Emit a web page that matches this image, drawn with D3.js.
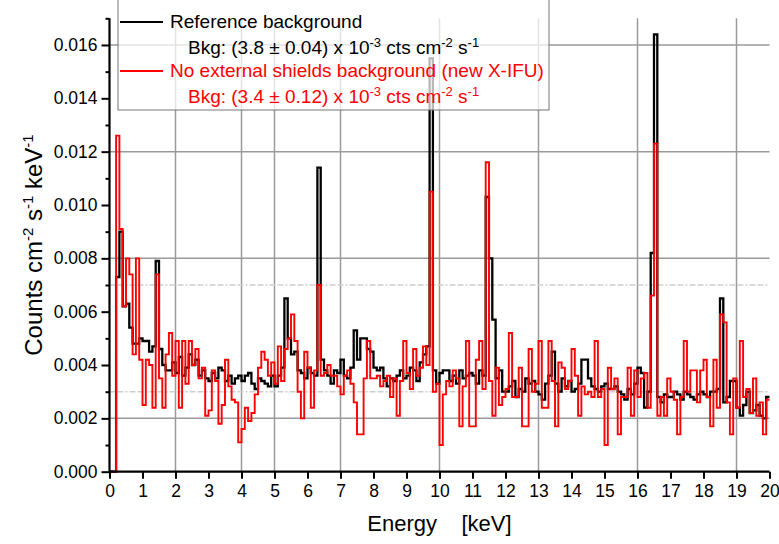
<!DOCTYPE html>
<html>
<head>
<meta charset="utf-8">
<script src="https://cdn.jsdelivr.net/npm/d3@7/dist/d3.min.js"></script>
<style>
  body { margin: 0; background: #fff; }
  text { font-family: "Liberation Sans", Arial, sans-serif; }
</style>
</head>
<body>
<div id="chart"></div>
<script>
// spectra, 0.1 keV bins from 0 to 20 keV, values in 1e-3 counts cm-2 s-1 keV-1
const binWidth = 0.1;

const refBkg = [
  0, 0, 7.3, 9.0, 6.2, 6.3, 5.4, 4.8, 4.8, 5.0,
  4.9, 4.9, 4.5, 4.7, 7.9, 4.6, 4.0, 3.8, 3.8, 4.1,
  3.7, 4.3, 3.6, 3.9, 4.4, 4.0, 4.2, 3.6, 3.8, 3.5,
  3.4, 3.7, 3.5, 3.9, 3.8, 3.4, 3.6, 3.3, 3.5, 3.6,
  3.4, 3.6, 3.7, 3.3, 3.1, 3.5, 3.4, 3.3, 3.2, 3.6,
  3.2, 3.6, 3.9, 6.5, 5.0, 4.4, 4.5, 3.8, 3.7, 3.5,
  3.9, 3.7, 3.6, 11.4, 4.2, 3.8, 3.6, 3.3, 3.8, 3.7,
  4.2, 3.6, 3.5, 3.9, 5.3, 4.2, 5.0, 5.0, 4.6, 4.5,
  3.9, 3.8, 3.9, 3.5, 3.2, 3.5, 3.4, 3.6, 3.8, 3.5,
  3.6, 3.9, 3.8, 3.4, 4.1, 4.4, 4.7, 15.5, 3.8, 3.3,
  3.7, 3.8, 3.8, 3.4, 3.6, 3.3, 3.8, 3.5, 3.6, 3.7,
  3.6, 3.3, 3.8, 3.6, 10.3, 8.0, 5.7, 3.5, 3.8, 3.0,
  3.0, 3.2, 3.4, 2.8, 3.1, 3.0, 3.5, 3.3, 3.4, 3.0,
  2.9, 2.7, 3.3, 3.6, 4.5, 3.3, 3.0, 3.5, 3.2, 3.4,
  3.0, 3.1, 3.3, 4.2, 4.2, 3.5, 3.2, 3.1, 3.0, 3.2,
  3.3, 3.1, 3.1, 3.2, 3.0, 2.9, 2.7, 3.1, 2.9, 3.3,
  3.9, 3.7, 2.4, 3.0, 8.2, 16.4, 2.8, 2.6, 2.9, 2.8,
  2.8, 3.0, 2.9, 2.7, 3.0, 2.9, 2.8, 2.7, 2.9, 3.0,
  2.9, 2.8, 3.0, 3.0, 3.1, 6.5, 2.6, 2.8, 3.4, 3.4,
  2.4, 2.1, 2.5, 3.0, 2.2, 2.3, 2.5, 2.1, 2.0, 2.8
];

const noShieldBkg = [
  0, 0, 12.6, 9.1, 6.2, 8.0, 7.4, 4.4, 8.0, 4.2,
  2.5, 4.2, 4.0, 2.4, 7.4, 3.5, 2.4, 4.4, 5.2, 3.6,
  4.9, 2.4, 4.9, 3.3, 4.9, 4.0, 4.6, 3.5, 3.9, 2.1,
  2.3, 3.8, 3.4, 1.8, 2.5, 4.2, 3.2, 2.7, 2.6, 1.1,
  1.6, 2.4, 1.9, 2.2, 2.9, 3.9, 4.5, 4.2, 3.6, 4.1,
  3.3, 4.7, 3.4, 4.6, 5.0, 5.9, 4.9, 3.0, 2.0, 4.5,
  3.9, 2.4, 3.8, 7.0, 3.6, 3.7, 4.0, 3.6, 3.6, 3.2,
  2.9, 3.6, 3.8, 3.3, 2.6, 1.4, 1.4, 3.5, 4.9, 3.5,
  3.5, 3.6, 3.2, 3.4, 3.6, 2.8, 3.5, 2.1, 3.4, 4.9,
  3.7, 3.1, 4.6, 3.6, 3.9, 4.7, 4.0, 10.5, 3.0, 3.3,
  1.0, 2.9, 3.4, 3.2, 3.8, 3.5, 1.7, 3.2, 4.9, 1.7,
  1.7, 4.2, 4.9, 3.1, 11.6, 3.4, 2.1, 3.9, 2.5, 2.8,
  3.1, 5.2, 2.8, 2.8, 3.9, 1.7, 1.7, 4.6, 3.0, 3.3,
  4.9, 2.4, 2.4, 4.9, 3.4, 1.7, 4.1, 3.9, 3.1, 3.4,
  4.6, 3.6, 2.1, 3.2, 2.9, 3.0, 2.8, 4.9, 2.8, 3.1,
  1.0, 3.9, 3.1, 3.5, 1.4, 2.8, 2.8, 3.9, 2.1, 3.8,
  2.8, 3.5, 3.7, 2.4, 6.6, 12.3, 2.1, 2.8, 2.1, 3.5,
  3.0, 2.7, 1.4, 2.8, 4.9, 3.0, 3.8, 3.8, 2.6, 3.8,
  4.2, 2.8, 1.7, 4.2, 2.4, 5.9, 5.6, 2.6, 1.4, 3.5,
  2.4, 4.9, 2.8, 3.1, 2.2, 3.5, 2.1, 2.6, 1.4, 2.7
];

const xTicks = d3.range(0, 21, 1);
const yTicks = [0, 0.002, 0.004, 0.006, 0.008, 0.010, 0.012, 0.014, 0.016];
const yMinorTicks = [0.001, 0.003, 0.005, 0.007, 0.009, 0.011, 0.013, 0.015, 0.017];
const xGrid = [2, 4, 5, 7, 10, 13, 16, 19];
const yGrid = [0.002, 0.008, 0.012, 0.016];
const yDashGrid = [0.003, 0.007];

const seriesNames = ["Reference background", "No external shields background (new X-IFU)"];
const seriesBkg = [["3.8", "0.04"], ["3.4", "0.12"]];
const seriesColors = ["#000000", "#ff0000"];

const W = 779, H = 544;
let margin = { top: 18.3, right: 9.5, bottom: 72.3, left: 109.5 },
  width = W - margin.left - margin.right,
  height = H - margin.top - margin.bottom;

let svg = d3.select("#chart").append("svg")
  .attr("width", W)
  .attr("height", H);

let g = svg.append("g")
  .attr("transform", "translate(" + margin.left + "," + margin.top + ")");

let x = d3.scaleLinear().domain([0, 20]).range([0, width]);
let y = d3.scaleLinear().domain([0, 0.017]).range([height, 0]);

// grid
g.selectAll(".vgrid").data(xGrid).enter().append("line")
  .attr("x1", d => x(d)).attr("x2", d => x(d))
  .attr("y1", 0).attr("y2", height)
  .attr("stroke", "#9a9a9a").attr("stroke-width", 1.5);

g.selectAll(".hgrid").data(yGrid).enter().append("line")
  .attr("x1", 0).attr("x2", width)
  .attr("y1", d => y(d)).attr("y2", d => y(d))
  .attr("stroke", "#9a9a9a").attr("stroke-width", 1.5);

g.selectAll(".hdash").data(yDashGrid).enter().append("line")
  .attr("x1", 0).attr("x2", width)
  .attr("y1", d => y(d)).attr("y2", d => y(d))
  .attr("stroke", "#cfcfcf").attr("stroke-width", 1.5)
  .attr("stroke-dasharray", "6,2,6,2,2,2");

// step histograms
function toSteps(values) {
  let pts = values.map((v, i) => [i * binWidth, v * 1e-3]);
  pts.push([values.length * binWidth, values[values.length - 1] * 1e-3]);
  return pts;
}

let stepLine = d3.line()
  .x(d => x(d[0]))
  .y(d => y(d[1]))
  .curve(d3.curveStepAfter);

g.append("path")
  .datum(toSteps(refBkg))
  .attr("fill", "none")
  .attr("stroke", seriesColors[0])
  .attr("stroke-width", 2.3)
  .attr("d", stepLine);

g.append("path")
  .datum(toSteps(noShieldBkg))
  .attr("fill", "none")
  .attr("stroke", seriesColors[1])
  .attr("stroke-width", 1.9)
  .attr("d", stepLine);

// axes
let xAxis = g.append("g")
  .attr("transform", "translate(0," + height + ")")
  .call(d3.axisBottom(x).tickValues(xTicks).tickFormat(d3.format("d")).tickSize(7).tickPadding(6));

let yAxis = g.append("g")
  .call(d3.axisLeft(y).tickValues(yTicks).tickFormat(d3.format(".3f")).tickSize(8).tickPadding(4));

g.append("g")
  .call(d3.axisLeft(y).tickValues(yMinorTicks).tickFormat("").tickSize(4))
  .select(".domain").remove();

[xAxis, yAxis].forEach(a => {
  a.select(".domain").attr("stroke-width", 2.2).attr("d",
    a === xAxis ? "M0,0H" + width : "M0,0V" + height);
  a.selectAll(".tick text")
    .style("font-size", "17.5px")
    .attr("fill", "#000");
});
g.selectAll(".tick line").attr("stroke-width", 2);

// axis titles
svg.append("text")
  .attr("x", margin.left + x(10))
  .attr("y", 531)
  .attr("text-anchor", "middle")
  .style("font-size", "22px")
  .style("white-space", "pre")
  .text("Energy    [keV]");

let yTitle = svg.append("text")
  .attr("transform", "translate(42,245) rotate(-90)")
  .attr("text-anchor", "middle")
  .style("font-size", "24px");
yTitle.append("tspan").text("Counts cm");
yTitle.append("tspan").attr("dy", -9).style("font-size", "15px").text("-2");
yTitle.append("tspan").attr("dy", 9).text(" s");
yTitle.append("tspan").attr("dy", -9).style("font-size", "15px").text("-1");
yTitle.append("tspan").attr("dy", 9).text(" keV");
yTitle.append("tspan").attr("dy", -9).style("font-size", "15px").text("-1");

// legend
let legend = svg.append("g");
legend.append("rect")
  .attr("x", 118).attr("y", -2)
  .attr("width", 431).attr("height", 112)
  .attr("fill", "#fff").attr("fill-opacity", 0.72)
  .attr("stroke", "#777").attr("stroke-width", 1);

seriesNames.forEach((name, i) => {
  let top = 22 + i * 49;
  legend.append("line")
    .attr("x1", 120).attr("x2", 163)
    .attr("y1", top).attr("y2", top)
    .attr("stroke", seriesColors[i]).attr("stroke-width", 2.2);
  legend.append("text")
    .attr("x", 170).attr("y", top + 6)
    .attr("fill", seriesColors[i])
    .style("font-size", "19px")
    .text(name);
  let t = legend.append("text")
    .attr("x", 188).attr("y", top + 32)
    .attr("fill", seriesColors[i])
    .style("font-size", "19px");
  t.append("tspan").text("Bkg: (" + seriesBkg[i][0] + " \u00b1 " + seriesBkg[i][1] + ") x 10");
  t.append("tspan").attr("dy", -7).style("font-size", "13px").text("-3");
  t.append("tspan").attr("dy", 7).text(" cts cm");
  t.append("tspan").attr("dy", -7).style("font-size", "13px").text("-2");
  t.append("tspan").attr("dy", 7).text(" s");
  t.append("tspan").attr("dy", -7).style("font-size", "13px").text("-1");
});
</script>
</body>
</html>
